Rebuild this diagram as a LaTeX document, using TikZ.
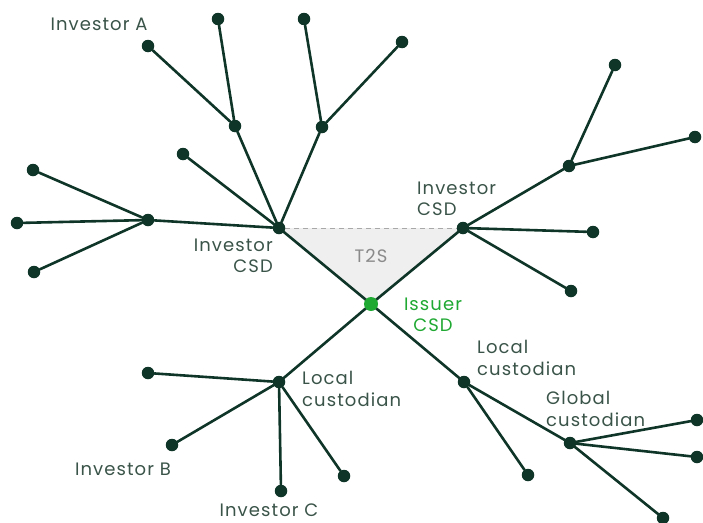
\documentclass[tikz,border=0pt]{standalone}
\usepackage{fontspec}
\setmainfont[LetterSpace=6]{Poppins}
\usetikzlibrary{backgrounds}
\definecolor{ink}{HTML}{0E3528}
\definecolor{txt}{HTML}{3A5449}
\definecolor{issuer}{HTML}{1FA832}
\definecolor{tzfill}{HTML}{EFEFEF}
\definecolor{tzline}{HTML}{A8A8A8}
\definecolor{tztext}{HTML}{8A8A8A}
\tikzset{
  dot/.style={circle, fill=ink, inner sep=0pt, minimum size=12.5pt},
  greendot/.style={circle, fill=issuer, inner sep=0pt, minimum size=14pt},
  edge/.style={draw=ink, line width=2.6pt, line cap=round},
  lbl/.style={text=txt, font=\fontsize{18}{21.5}\selectfont, inner sep=0pt},
}
\begin{document}
\begin{tikzpicture}[x=1pt,y=-1pt]
\useasboundingbox (0,0) rectangle (703,522);

% hubs
\node[dot] (icL) at (279,228) {};
\node[dot] (icR) at (463,228) {};
\node[greendot] (iss) at (371,304) {};
\node[dot] (hL) at (148,220) {};
\node[dot] (hA1) at (235,126) {};
\node[dot] (hA2) at (322,127) {};
\node[dot] (hR) at (569,166) {};
\node[dot] (lcL) at (279,382) {};
\node[dot] (lcR) at (464,382) {};
\node[dot] (gc) at (570,443) {};

% leaves
\node[dot] (a1) at (148,46) {};
\node[dot] (a2) at (218,19) {};
\node[dot] (a3) at (304,19) {};
\node[dot] (a4) at (402,42) {};
\node[dot] (a5) at (183,154) {};
\node[dot] (l1) at (33,170) {};
\node[dot] (l2) at (17,223) {};
\node[dot] (l3) at (34,272) {};
\node[dot] (r1) at (615,65) {};
\node[dot] (r2) at (695,137) {};
\node[dot] (r3) at (593,232) {};
\node[dot] (r4) at (571,291) {};
\node[dot] (b1) at (148,373) {};
\node[dot] (b2) at (172,445) {};
\node[dot] (b3) at (281,491) {};
\node[dot] (b4) at (344,476) {};
\node[dot] (c1) at (528,475) {};
\node[dot] (g1) at (697,420) {};
\node[dot] (g2) at (697,457) {};
\node[dot] (g3) at (663,518) {};

% T2S settlement triangle
\begin{scope}[on background layer]
  \fill[tzfill] (icL.center) -- (icR.center) -- (iss.center) -- cycle;
  \draw[tzline, line width=1pt, dash pattern=on 5pt off 4pt] (icL) -- (icR);
  \draw[edge] (icL.center) -- (iss.center) -- (icR.center);
  \draw[edge] (iss.center) -- (lcL.center);
  \draw[edge] (iss.center) -- (lcR.center);
\end{scope}
\node[text=tztext, font=\fontsize{18}{20}\selectfont, inner sep=0pt] (t2s) at (371,256) {T2S};

% left investor CSD tree
\draw[edge] (icL) -- (hL);
\draw[edge] (icL) -- (hA1);
\draw[edge] (icL) -- (hA2);
\draw[edge] (icL) -- (a5);
\draw[edge] (hL) -- (l1);
\draw[edge] (hL) -- (l2);
\draw[edge] (hL) -- (l3);
\draw[edge] (hA1) -- (a1);
\draw[edge] (hA1) -- (a2);
\draw[edge] (hA2) -- (a3);
\draw[edge] (hA2) -- (a4);

% right investor CSD tree
\draw[edge] (icR) -- (hR);
\draw[edge] (icR) -- (r3);
\draw[edge] (icR) -- (r4);
\draw[edge] (hR) -- (r1);
\draw[edge] (hR) -- (r2);

% custodian trees
\draw[edge] (lcL) -- (b1);
\draw[edge] (lcL) -- (b2);
\draw[edge] (lcL) -- (b3);
\draw[edge] (lcL) -- (b4);
\draw[edge] (lcR) -- (c1);
\draw[edge] (lcR) -- (gc);
\draw[edge] (gc) -- (g1);
\draw[edge] (gc) -- (g2);
\draw[edge] (gc) -- (g3);

% labels
\node[lbl] (tA) at (99,24) {Investor A};
\node[lbl, align=right, anchor=east] (tL) at (273,256) {Investor\\CSD};
\node[lbl, align=left, anchor=west] (tR) at (417,199) {Investor\\CSD};
\node[lbl, align=center, text=issuer] (tI) at (433,315) {Issuer\\CSD};
\node[lbl, align=left, anchor=west] (tLR) at (477,358) {Local\\custodian};
\node[lbl, align=left, anchor=west] (tG) at (546,409) {Global\\custodian};
\node[lbl, align=left, anchor=west] (tLL) at (302,389) {Local\\custodian};
\node[lbl] (tB) at (123,469) {Investor B};
\node[lbl] (tC) at (269,510) {Investor C};
\end{tikzpicture}
\end{document}
